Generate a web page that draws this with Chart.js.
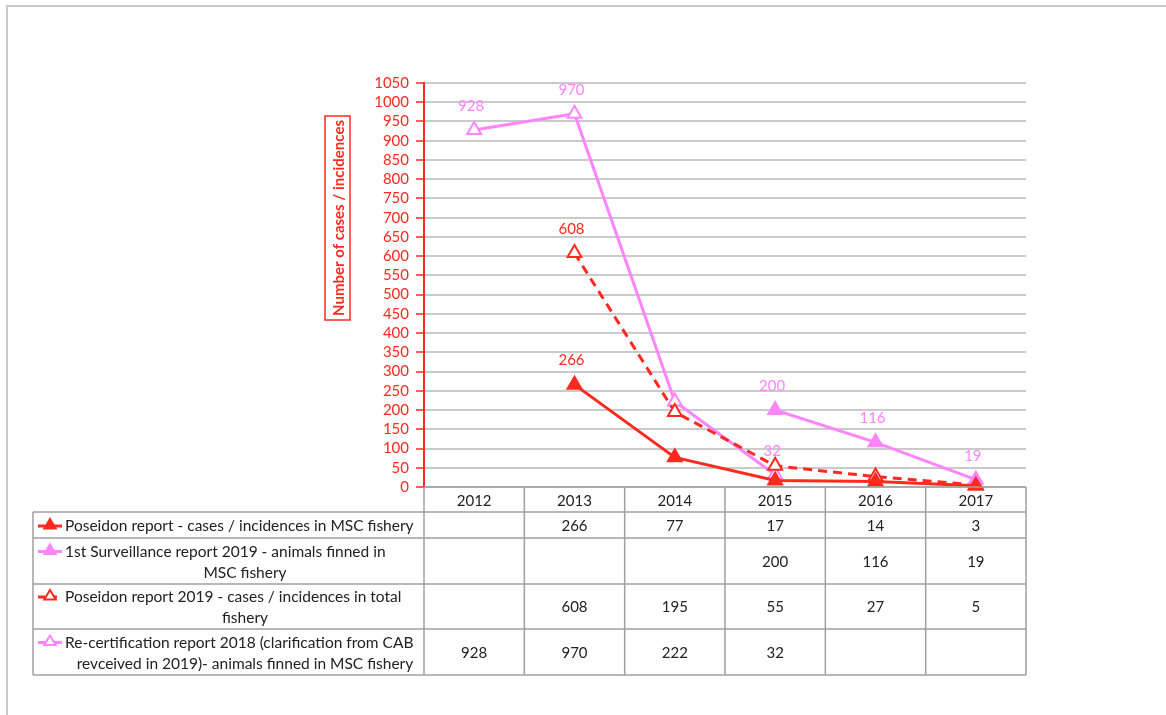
<!DOCTYPE html>
<html>
<head>
<meta charset="utf-8">
<script src="https://cdn.jsdelivr.net/npm/chart.js@4.4.1/dist/chart.umd.min.js"></script>
<style>
  html,body{margin:0;padding:0;background:#fff;}
  #frame{position:absolute;left:6px;top:5px;width:1170px;height:720px;border-top:2px solid #c9c9c9;border-left:2px solid #c9c9c9;}
  #wrap{position:absolute;left:0;top:0;width:1166px;height:715px;}
</style>
</head>
<body>
<div id="frame"></div>
<div id="wrap"><canvas id="chart" width="1166" height="715"></canvas></div>
<script>
// categories
const years = ['2012','2013','2014','2015','2016','2017'];

// series values (null = no value in that year)
const poseidonMsc   = [null, 266, 77, 17, 14, 3];
const surveillance  = [null, null, null, 200, 116, 19];
const poseidonTotal = [null, 608, 195, 55, 27, 5];
const recert        = [928, 970, 222, 32, null, null];

// legend texts as they are wrapped in the table
const seriesNames = [
  ['Poseidon report - cases / incidences in MSC fishery'],
  ['1st Surveillance report 2019 - animals finned in', 'MSC fishery'],
  ['Poseidon report 2019 - cases / incidences in total', 'fishery'],
  ['Re-certification report 2018 (clarification from CAB', 'revceived in 2019)- animals finned in MSC fishery']
];

// which points carry a value label on the chart
const labelledPoints = [[1], [3, 4, 5], [1], [0, 1, 3]];

// y axis
const yMax = 1050;
const yStep = 50;
const yTitle = 'Number of cases / incidences';

const RED = '#ff2a1f';
const PINK = '#ff85ff';
const FONT = 'Lato, "Open Sans", sans-serif';

function tri(ctx, x, y, r, fill, stroke){
  ctx.beginPath();
  ctx.moveTo(x, y - r);
  ctx.lineTo(x + r*0.95, y + r*0.6);
  ctx.lineTo(x - r*0.95, y + r*0.6);
  ctx.closePath();
  ctx.fillStyle = fill; ctx.fill();
  ctx.lineWidth = 2; ctx.strokeStyle = stroke; ctx.stroke();
}

const datasets = [
  { label: seriesNames[0].join(' '), data: poseidonMsc, borderColor: RED, backgroundColor: RED, pointBackgroundColor: RED, borderWidth: 3 },
  { label: seriesNames[1].join(' '), data: surveillance, borderColor: PINK, backgroundColor: PINK, pointBackgroundColor: PINK, borderWidth: 3 },
  { label: seriesNames[2].join(' '), data: poseidonTotal, borderColor: RED, backgroundColor: RED, pointBackgroundColor: '#fff', borderWidth: 3, borderDash: [9, 6] },
  { label: seriesNames[3].join(' '), data: recert, borderColor: PINK, backgroundColor: PINK, pointBackgroundColor: '#fff', borderWidth: 3 }
].map(d => Object.assign({ pointStyle: 'triangle', pointRadius: 8, pointBorderWidth: 2, pointBorderColor: d.borderColor, tension: 0, spanGaps: false, clip: false }, d));

// value labels above points
const valueLabels = {
  id: 'valueLabels',
  afterDatasetsDraw(chart){
    const ctx = chart.ctx;
    ctx.save();
    ctx.font = '15px ' + FONT;
    ctx.textAlign = 'center';
    ctx.textBaseline = 'middle';
    chart.data.datasets.forEach((ds, i) => {
      const meta = chart.getDatasetMeta(i);
      labelledPoints[i].forEach(j => {
        const p = meta.data[j];
        ctx.fillStyle = ds.borderColor;
        ctx.fillText(String(ds.data[j]), p.x - 3, p.y - 24);
      });
    });
    ctx.restore();
  }
};

// boxed y title and data table below the plot
const tableAndTitle = {
  id: 'tableAndTitle',
  afterDraw(chart){
    const ctx = chart.ctx;
    const area = chart.chartArea;
    const xs = chart.scales.x;
    ctx.save();

    // y title in a box
    ctx.save();
    ctx.translate(338, 218);
    ctx.rotate(-Math.PI/2);
    ctx.font = 'bold 15px ' + FONT;
    ctx.fillStyle = RED;
    ctx.textAlign = 'center';
    ctx.textBaseline = 'middle';
    ctx.fillText(yTitle, 0, 1);
    ctx.restore();
    ctx.strokeStyle = RED;
    ctx.lineWidth = 1.5;
    ctx.strokeRect(325, 116, 25, 204);

    // table grid
    const n = years.length;
    const colW = (area.right - area.left) / n;
    const rows = [area.bottom, 512, 538, 584, 629, 675];
    const leftX = 33;
    ctx.strokeStyle = '#a0a0a0';
    ctx.lineWidth = 1.5;
    ctx.beginPath();
    ctx.moveTo(area.left, rows[0]); ctx.lineTo(area.right, rows[0]);
    for (let r = 1; r < rows.length; r++){ ctx.moveTo(leftX, rows[r]); ctx.lineTo(area.right, rows[r]); }
    for (let c = 0; c <= n; c++){
      const x = area.left + c * colW;
      ctx.moveTo(x, rows[0]); ctx.lineTo(x, rows[rows.length-1]);
    }
    ctx.moveTo(leftX, rows[1]); ctx.lineTo(leftX, rows[rows.length-1]);
    ctx.stroke();

    // values
    ctx.font = '15px ' + FONT;
    ctx.fillStyle = '#222';
    ctx.textAlign = 'center';
    ctx.textBaseline = 'middle';
    chart.data.datasets.forEach((ds, i) => {
      const cy = (rows[i+1] + rows[i+2]) / 2 + 1;
      ds.data.forEach((v, j) => {
        if (v === null) return;
        ctx.fillText(String(v), xs.getPixelForValue(j), cy);
      });
    });

    // legend keys and names
    ctx.font = '15.5px ' + FONT;
    chart.data.datasets.forEach((ds, i) => {
      const lines = seriesNames[i];
      const top = rows[i+1];
      const h = rows[i+2] - top;
      const lh = 21;
      const y0 = top + h/2 - (lines.length - 1) * lh / 2 + 1;
      ctx.strokeStyle = ds.borderColor;
      ctx.lineWidth = 3;
      ctx.setLineDash(ds.borderDash ? [7, 5] : []);
      ctx.beginPath();
      ctx.moveTo(38, y0); ctx.lineTo(62, y0);
      ctx.stroke();
      ctx.setLineDash([]);
      tri(ctx, 50, y0 - 1, 6, ds.pointBackgroundColor, ds.borderColor);
      ctx.fillStyle = '#222';
      lines.forEach((t, k) => {
        if (k === 0){ ctx.textAlign = 'left'; ctx.fillText(t, 65, y0); }
        else { ctx.textAlign = 'center'; ctx.fillText(t, 245, y0 + k * lh); }
      });
    });
    ctx.restore();
  }
};

new Chart(document.getElementById('chart'), {
  type: 'line',
  data: { labels: years, datasets: datasets },
  options: {
    responsive: false,
    animation: false,
    layout: { padding: { left: 0, right: 140, top: 83, bottom: 203 } },
    plugins: { legend: { display: false }, tooltip: { enabled: false } },
    scales: {
      x: {
        offset: true,
        grid: { display: false },
        border: { display: false },
        ticks: { color: '#222', font: { family: FONT, size: 15 }, padding: -3, maxRotation: 0 },
        afterFit(s){ s.height = 25; }
      },
      y: {
        min: 0, max: yMax,
        ticks: { stepSize: yStep, autoSkip: false, color: RED, font: { family: FONT, size: 15 }, padding: 7,
                 callback: v => String(v) },
        grid: { color: '#cacaca', lineWidth: 2, tickColor: RED, tickLength: 8, tickWidth: 1.5 },
        border: { color: RED, width: 2 },
        afterFit(s){ s.width = 424; }
      }
    }
  },
  plugins: [valueLabels, tableAndTitle]
});
</script>
</body>
</html>
